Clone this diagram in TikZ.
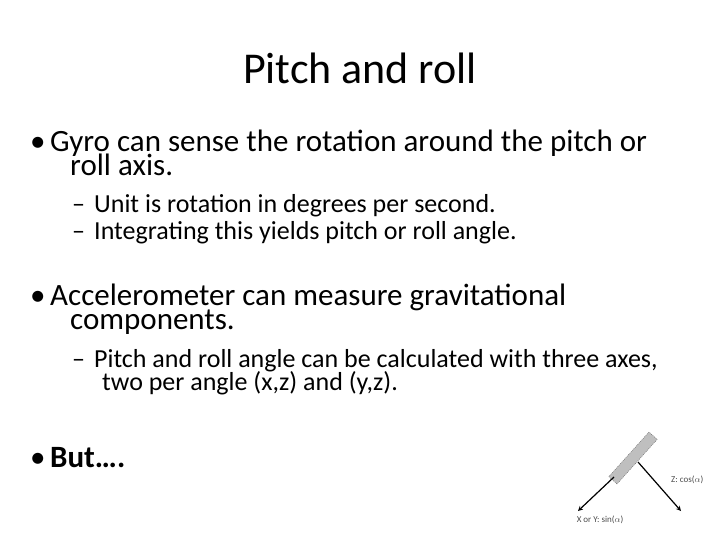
\documentclass[tikz,border=0pt]{standalone}
\usepackage{fontspec}
\setmainfont{Carlito}
\begin{document}
\begin{tikzpicture}[x=1pt,y=-1pt,
 bul/.style={anchor=base west,inner sep=0,font=\fontsize{31}{36}\selectfont},
 sub/.style={anchor=base west,inner sep=0,font=\fontsize{26}{30}\selectfont},
 lab/.style={inner sep=0,font=\fontsize{9}{10}\selectfont,text=black!70},
 arr/.style={line width=1.2pt,-stealth}]
\useasboundingbox (0,0) rectangle (720,540);
\node[anchor=base,inner sep=0,font=\fontsize{44}{50}\selectfont] (t) at (360,84) {Pitch and roll};
\node[bul] (b1) at (30,152) {•};
\node[bul] (l1) at (50,152) {Gyro can sense the rotation around the pitch or};
\node[bul] (l1b) at (70,176) {roll axis.};
\node[sub] (s1d) at (72,213) {–};
\node[sub] (s1) at (94,213) {Unit is rotation in degrees per second.};
\node[sub] (s2d) at (72,240) {–};
\node[sub] (s2) at (94,240) {Integrating this yields pitch or roll angle.};
\node[bul] (b2) at (30,305) {•};
\node[bul] (l2) at (50,305) {Accelerometer can measure gravitational};
\node[bul] (l2b) at (70,329) {components.};
\node[sub] (s3d) at (72,367) {–};
\node[sub] (s3) at (94,367) {Pitch and roll angle can be calculated with three axes,};
\node[sub] (s3b) at (102,390) {two per angle (x,z) and (y,z).};
\node[bul] (b3) at (30,467) {•};
\node[bul] (l3) at (50,467) {\textbf{But….}};
\node[draw=black!60,fill=black!25,minimum width=60pt,minimum height=11pt,inner sep=0,rotate=48,dash pattern=on 1pt off 1pt] (bar) at (633,458) {};
\coordinate (a1) at (614,477);
\coordinate (e1) at (578,511);
\coordinate (a2) at (638,462);
\coordinate (e2) at (681,511);
\draw[arr] (a1) -- (e1);
\draw[arr] (a2) -- (e2);
\node[lab,anchor=west] (z) at (671,480) {Z: cos($\alpha$)};
\node[lab,anchor=north] (x) at (600,516) {X or Y: sin($\alpha$)};
\end{tikzpicture}
\end{document}
